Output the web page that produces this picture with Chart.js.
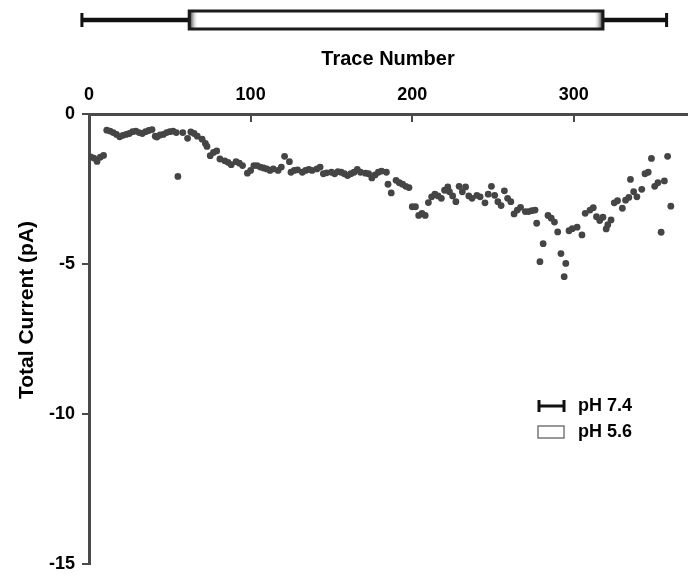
<!DOCTYPE html>
<html>
<head>
<meta charset="utf-8">
<script src="https://cdn.jsdelivr.net/npm/chart.js@4.4.0/dist/chart.umd.min.js"></script>
<style>
    html, body { margin: 0; padding: 0; background: #fff; }
    #wrap { width: 696px; height: 582px; }
</style>
</head>
<body>
<div id="wrap"><canvas id="currentChart"></canvas></div>
<script>
// Trace number of each recording
const traces = [
    1, 3, 5, 7, 9, 11, 13, 15, 17, 19, 21, 23, 25, 27, 29, 31, 33, 35, 37, 39,
    41, 42, 44, 46, 48, 50, 52, 54, 55, 58, 61, 63, 65, 67, 70, 72, 73, 75, 77, 79,
    81, 84, 86, 88, 91, 93, 95, 98, 100, 102, 104, 106, 108, 110, 112, 114, 117, 119, 121, 124,
    125, 127, 129, 132, 134, 136, 138, 141, 143, 145, 147, 150, 152, 154, 156, 158, 160, 162, 164, 166,
    168, 171, 173, 175, 177, 179, 181, 184, 185, 187, 190, 192, 194, 196, 198, 200, 202, 204, 206, 208,
    210, 212, 214, 216, 218, 220, 222, 223, 225, 227, 229, 231, 233, 235, 237, 240, 242, 245, 247, 249,
    251, 253, 255, 257, 259, 261, 263, 265, 267, 270, 272, 274, 276, 277, 279, 281, 284, 286, 288, 290,
    292, 294, 295, 297, 299, 302, 305, 307, 310, 312, 314, 316, 318, 320, 321, 323, 325, 327, 330, 332,
    334, 335, 337, 339, 342, 344, 346, 348, 350, 352, 354, 356, 358, 360
];

// Total current (pA)
const currents = [
    -1.43, -1.47, -1.58, -1.44, -1.38, -0.54, -0.57, -0.62, -0.68, -0.76, -0.71, -0.68, -0.65, -0.59, -0.57, -0.62, -0.65, -0.59, -0.55, -0.52,
    -0.74, -0.77, -0.70, -0.68, -0.62, -0.59, -0.57, -0.62, -2.08, -0.62, -0.81, -0.60, -0.65, -0.74, -0.84, -0.98, -1.08, -1.39, -1.28, -1.23,
    -1.50, -1.56, -1.61, -1.69, -1.59, -1.64, -1.72, -1.97, -1.88, -1.72, -1.72, -1.77, -1.80, -1.83, -1.88, -1.83, -1.88, -1.77, -1.41, -1.59,
    -1.94, -1.88, -1.86, -1.94, -1.88, -1.85, -1.88, -1.83, -1.77, -1.99, -1.96, -1.94, -1.99, -1.92, -1.94, -1.99, -2.05, -1.99, -1.94, -1.85,
    -1.94, -1.97, -1.99, -2.13, -2.03, -1.94, -1.90, -1.94, -2.34, -2.63, -2.21, -2.29, -2.34, -2.41, -2.45, -3.09, -3.09, -3.38, -3.31, -3.38,
    -2.95, -2.76, -2.67, -2.73, -2.81, -2.54, -2.43, -2.59, -2.73, -2.92, -2.41, -2.59, -2.43, -2.73, -2.81, -2.71, -2.76, -2.96, -2.67, -2.41,
    -2.71, -2.92, -3.05, -2.56, -2.81, -2.92, -3.33, -3.20, -3.11, -3.25, -3.25, -3.22, -3.20, -3.64, -4.92, -4.32, -3.38, -3.47, -3.60, -3.93,
    -4.65, -5.42, -4.98, -3.89, -3.82, -3.77, -4.03, -3.31, -3.20, -3.12, -3.42, -3.55, -3.44, -3.83, -3.69, -3.53, -2.96, -2.89, -3.14, -2.87,
    -2.78, -2.18, -2.59, -2.76, -2.51, -1.99, -1.94, -1.48, -2.41, -2.29, -3.94, -2.23, -1.41, -3.07
];

// Solution periods in trace numbers
const recordRange = [-5, 358];   // pH 7.4 throughout
const lowPhRange = [62, 318];    // pH 5.6 perfusion

const xTicks = [0, 100, 200, 300];
const yTicks = [0, -5, -10, -15];

const axisColor = '#4a4a4a';
const fontFamily = '"Liberation Sans", Arial, sans-serif';

const points = traces.map((t, i) => ({ x: t, y: currents[i] }));

// inward tick marks on the top axis, and the y axis title
const axisExtras = {
    id: 'axisExtras',
    afterDraw(chart) {
        const ctx = chart.ctx;
        const xs = chart.scales.x;
        const top = chart.chartArea.top;
        ctx.save();
        ctx.strokeStyle = axisColor;
        ctx.lineWidth = 2;
        xTicks.forEach(v => {
            if (v === 0) return;
            const px = Math.round(xs.getPixelForValue(v));
            ctx.beginPath();
            ctx.moveTo(px, top);
            ctx.lineTo(px, top + 8);
            ctx.stroke();
        });
        ctx.translate(27, 310);
        ctx.rotate(-Math.PI / 2);
        ctx.fillStyle = '#000';
        ctx.font = 'bold 21px ' + fontFamily;
        ctx.textAlign = 'center';
        ctx.textBaseline = 'middle';
        ctx.fillText('Total Current (pA)', 0, 0);
        ctx.restore();
    }
};

// bar above the chart showing the pH periods, plus its key
const phBar = {
    id: 'phBar',
    afterDraw(chart) {
        const ctx = chart.ctx;
        const xs = chart.scales.x;
        const yc = 20;
        const x0 = xs.getPixelForValue(recordRange[0]);
        const x3 = xs.getPixelForValue(recordRange[1]);
        const x1 = xs.getPixelForValue(lowPhRange[0]);
        const x2 = xs.getPixelForValue(lowPhRange[1]);
        ctx.save();
        ctx.strokeStyle = '#111';
        ctx.lineWidth = 4.5;
        ctx.beginPath();
        ctx.moveTo(x0, yc); ctx.lineTo(x1, yc);
        ctx.moveTo(x2, yc); ctx.lineTo(x3, yc);
        ctx.stroke();
        ctx.lineWidth = 3;
        ctx.beginPath();
        ctx.moveTo(x0 + 1, yc - 7); ctx.lineTo(x0 + 1, yc + 7);
        ctx.moveTo(x3 - 1, yc - 7); ctx.lineTo(x3 - 1, yc + 7);
        ctx.stroke();

        // white box with shaded ends
        ctx.fillStyle = '#fff';
        ctx.fillRect(x1, 11, x2 - x1, 18);
        let g = ctx.createLinearGradient(x1, 0, x1 + 9, 0);
        g.addColorStop(0, 'rgba(20,20,20,1)');
        g.addColorStop(1, 'rgba(255,255,255,0)');
        ctx.fillStyle = g;
        ctx.fillRect(x1, 11, 9, 18);
        g = ctx.createLinearGradient(x2, 0, x2 - 9, 0);
        g.addColorStop(0, 'rgba(20,20,20,1)');
        g.addColorStop(1, 'rgba(255,255,255,0)');
        ctx.fillStyle = g;
        ctx.fillRect(x2 - 9, 11, 9, 18);
        ctx.strokeStyle = '#1a1a1a';
        ctx.lineWidth = 3;
        ctx.strokeRect(x1, 11, x2 - x1, 18);

        // key
        const lx = 538, ly1 = 406, ly2 = 432;
        ctx.strokeStyle = '#111';
        ctx.lineWidth = 3;
        ctx.beginPath();
        ctx.moveTo(lx + 1, ly1 - 6); ctx.lineTo(lx + 1, ly1 + 6);
        ctx.moveTo(lx + 26, ly1 - 6); ctx.lineTo(lx + 26, ly1 + 6);
        ctx.moveTo(lx, ly1); ctx.lineTo(lx + 27, ly1);
        ctx.stroke();
        ctx.fillStyle = '#fff';
        ctx.fillRect(lx, ly2 - 6, 26, 12);
        ctx.strokeStyle = '#777';
        ctx.lineWidth = 1.5;
        ctx.strokeRect(lx, ly2 - 6, 26, 12);
        ctx.fillStyle = '#000';
        ctx.font = 'bold 18px ' + fontFamily;
        ctx.textBaseline = 'middle';
        ctx.textAlign = 'left';
        ctx.fillText('pH 7.4', lx + 40, ly1);
        ctx.fillText('pH 5.6', lx + 40, ly2);
        ctx.restore();
    }
};

const config = {
    type: 'scatter',
    data: {
        datasets: [{
            label: 'Total Current',
            data: points,
            backgroundColor: '#454545',
            borderWidth: 0,
            pointRadius: 3.4,
            pointHoverRadius: 3.4
        }]
    },
    options: {
        responsive: false,
        animation: false,
        layout: { padding: { left: 8, top: 40, right: 9, bottom: 11 } },
        plugins: {
            legend: { display: false },
            tooltip: { enabled: false }
        },
        scales: {
            x: {
                type: 'linear',
                position: 'top',
                min: 0,
                max: 370,
                afterBuildTicks(scale) { scale.ticks = xTicks.map(v => ({ value: v })); },
                afterFit(scale) { scale.height = 74; },
                ticks: {
                    color: '#000',
                    padding: 8,
                    font: { family: fontFamily, weight: 'bold', size: 18 }
                },
                grid: { drawOnChartArea: false, drawTicks: false },
                border: { color: axisColor, width: 3 },
                title: {
                    display: true,
                    text: 'Trace Number',
                    color: '#000',
                    padding: { top: 7, bottom: 0 },
                    font: { family: fontFamily, weight: 'bold', size: 20 }
                }
            },
            y: {
                type: 'linear',
                min: -15,
                max: 0,
                afterBuildTicks(scale) { scale.ticks = yTicks.map(v => ({ value: v })); },
                afterFit(scale) { scale.width = 81; },
                ticks: {
                    color: '#000',
                    padding: 7,
                    font: { family: fontFamily, weight: 'bold', size: 18 }
                },
                grid: { drawOnChartArea: false, drawTicks: true, tickLength: 7, lineWidth: 2, color: axisColor },
                border: { color: axisColor, width: 3 },
                title: { display: false }
            }
        }
    },
    plugins: [axisExtras, phBar]
};

const canvas = document.getElementById('currentChart');
canvas.width = 696;
canvas.height = 582;
const currentChart = new Chart(canvas.getContext('2d'), config);
</script>
</body>
</html>
